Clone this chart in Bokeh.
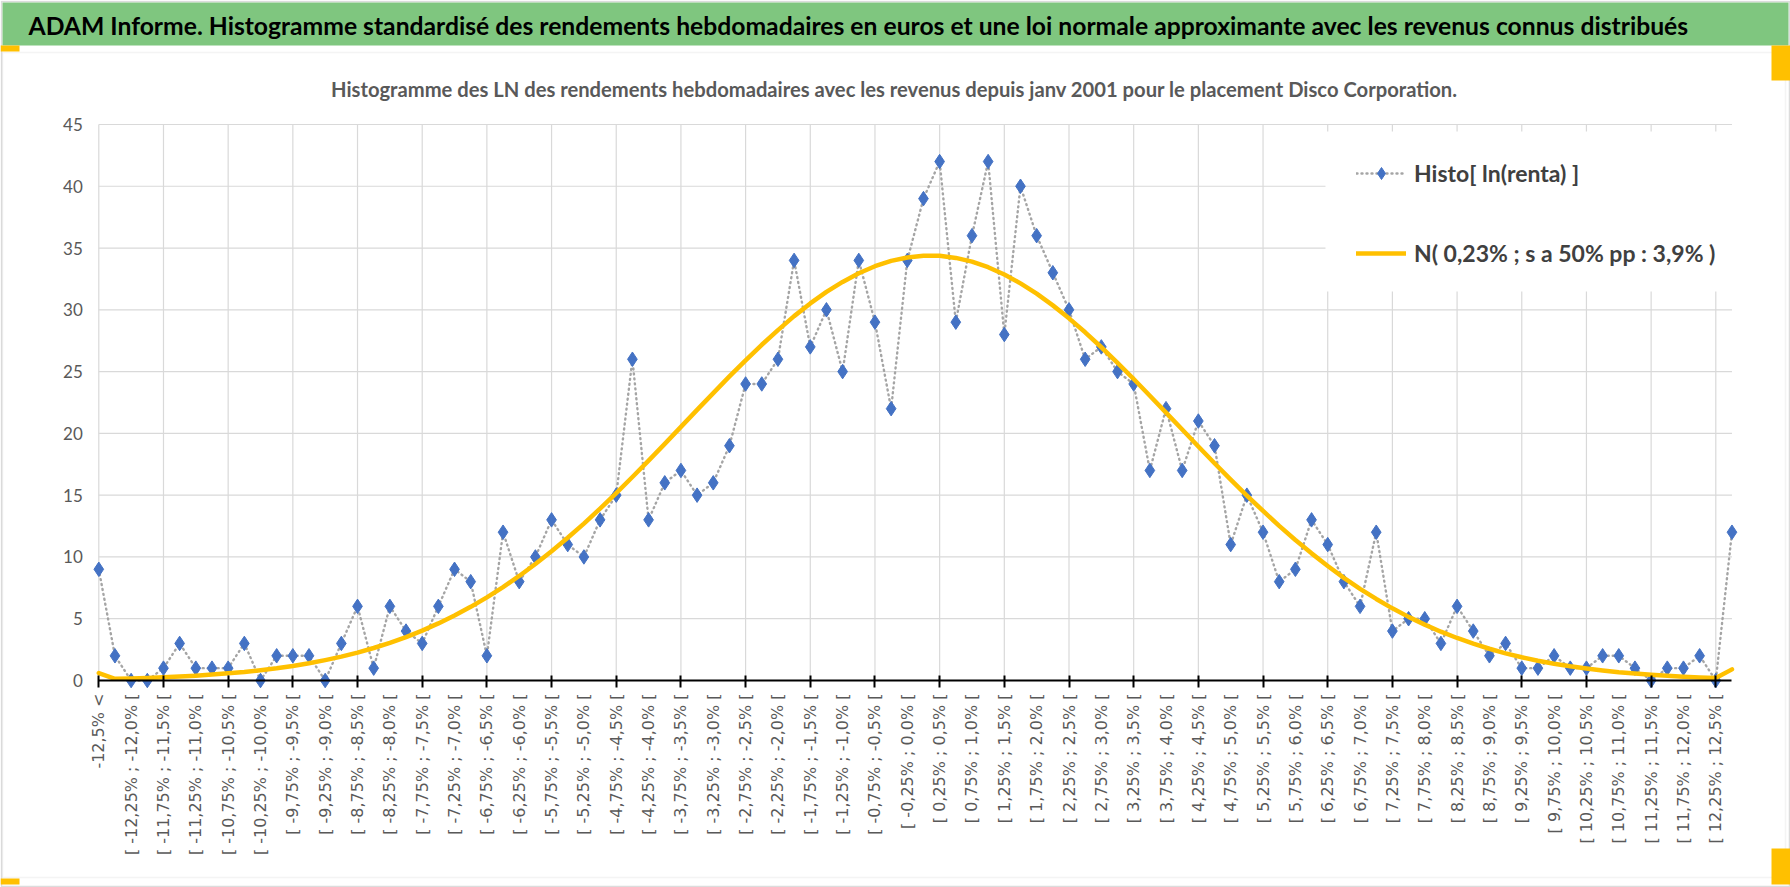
import math
from bokeh.plotting import figure
from bokeh.models import (ColumnDataSource, FixedTicker, Legend, LegendItem,
                          BoxAnnotation, Label, Range1d)
from bokeh.embed import file_html
from bokeh.resources import INLINE

# ---------------- data ----------------
histo_counts = [9, 2, 0, 0, 1, 3, 1, 1, 1, 3,
                0, 2, 2, 2, 0, 3, 6, 1, 6, 4,
                3, 6, 9, 8, 2, 12, 8, 10, 13, 11,
                10, 13, 15, 26, 13, 16, 17, 15, 16, 19,
                24, 24, 26, 34, 27, 30, 25, 34, 29, 22,
                34, 39, 42, 29, 36, 42, 28, 40, 36, 33,
                30, 26, 27, 25, 24, 17, 22, 17, 21, 19,
                11, 15, 12, 8, 9, 13, 11, 8, 6, 12,
                4, 5, 5, 3, 6, 4, 2, 3, 1, 1,
                2, 1, 1, 2, 2, 1, 0, 1, 1, 2,
                0, 12]

normal_fit = [0.6, 0.14, 0.17, 0.21, 0.26, 0.32, 0.39, 0.48, 0.58, 0.69,
              0.83, 0.99, 1.18, 1.40, 1.65, 1.93, 2.26, 2.63, 3.05, 3.51,
              4.04, 4.62, 5.26, 5.96, 6.73, 7.56, 8.46, 9.43, 10.46, 11.55,
              12.70, 13.91, 15.17, 16.47, 17.80, 19.15, 20.53, 21.90, 23.26, 24.61,
              25.91, 27.17, 28.36, 29.49, 30.52, 31.45, 32.26, 32.96, 33.53, 33.96,
              34.24, 34.38, 34.37, 34.20, 33.90, 33.45, 32.86, 32.14, 31.31, 30.36,
              29.31, 28.18, 26.97, 25.71, 24.40, 23.05, 21.68, 20.31, 18.94, 17.58,
              16.26, 14.97, 13.72, 12.51, 11.37, 10.29, 9.27, 8.31, 7.42, 6.60,
              5.84, 5.15, 4.52, 3.95, 3.44, 2.98, 2.57, 2.20, 1.88, 1.60,
              1.36, 1.15, 0.97, 0.81, 0.67, 0.56, 0.46, 0.38, 0.31, 0.25,
              0.21, 0.9]

tick_labels = [
    "-12,5% <",
    "[ -12,25% ; -12,0% [", "[ -11,75% ; -11,5% [", "[ -11,25% ; -11,0% [",
    "[ -10,75% ; -10,5% [", "[ -10,25% ; -10,0% [",
    "[ -9,75% ; -9,5% [", "[ -9,25% ; -9,0% [", "[ -8,75% ; -8,5% [", "[ -8,25% ; -8,0% [",
    "[ -7,75% ; -7,5% [", "[ -7,25% ; -7,0% [", "[ -6,75% ; -6,5% [", "[ -6,25% ; -6,0% [",
    "[ -5,75% ; -5,5% [", "[ -5,25% ; -5,0% [", "[ -4,75% ; -4,5% [", "[ -4,25% ; -4,0% [",
    "[ -3,75% ; -3,5% [", "[ -3,25% ; -3,0% [", "[ -2,75% ; -2,5% [", "[ -2,25% ; -2,0% [",
    "[ -1,75% ; -1,5% [", "[ -1,25% ; -1,0% [", "[ -0,75% ; -0,5% [", "[ -0,25% ; 0,0% [",
    "[ 0,25% ; 0,5% [", "[ 0,75% ; 1,0% [", "[ 1,25% ; 1,5% [", "[ 1,75% ; 2,0% [",
    "[ 2,25% ; 2,5% [", "[ 2,75% ; 3,0% [", "[ 3,25% ; 3,5% [", "[ 3,75% ; 4,0% [",
    "[ 4,25% ; 4,5% [", "[ 4,75% ; 5,0% [", "[ 5,25% ; 5,5% [", "[ 5,75% ; 6,0% [",
    "[ 6,25% ; 6,5% [", "[ 6,75% ; 7,0% [", "[ 7,25% ; 7,5% [", "[ 7,75% ; 8,0% [",
    "[ 8,25% ; 8,5% [", "[ 8,75% ; 9,0% [", "[ 9,25% ; 9,5% [", "[ 9,75% ; 10,0% [",
    "[ 10,25% ; 10,5% [", "[ 10,75% ; 11,0% [", "[ 11,25% ; 11,5% [", "[ 11,75% ; 12,0% [",
    "[ 12,25% ; 12,5% [",
]

y_ticks = [0, 5, 10, 15, 20, 25, 30, 35, 40, 45]

main_title = ("ADAM Informe. Histogramme standardisé des rendements hebdomadaires en euros "
              "et une loi normale approximante avec les revenus connus distribués")
sub_title = ("Histogramme des LN des rendements hebdomadaires avec les revenus depuis "
             "janv 2001 pour le placement Disco Corporation.")
series_names = ["Histo[ ln(renta) ]", "N( 0,23% ; s a 50% pp : 3,9% )"]

# ---------------- derived ----------------
positions = list(range(len(histo_counts)))
label_positions = positions[::2]
grid_positions = positions[::4]

W, H = 1790, 887
FONT = "Lato"
GRAY_TXT = "#595959"
GRID = "#D9D9D9"

# the frame covers the whole canvas; data area placed through the ranges
PX_X = 16.17      # px per category
PX_Y = 12.356     # px per unit
X0_PX = 98.3      # screen x of the first category
Y0_PX = 680.0     # screen y of value 0
x_start = -X0_PX / PX_X
y_start = -(H - Y0_PX) / PX_Y

p = figure(width=W, height=H, output_backend="svg", toolbar_location=None,
           x_range=Range1d(x_start, x_start + W / PX_X),
           y_range=Range1d(y_start, y_start + H / PX_Y),
           min_border=0, min_border_left=0, min_border_right=0,
           min_border_top=0, min_border_bottom=0)
p.styles = {"position": "absolute", "left": "0px", "top": "0px"}
p.outline_line_color = None
p.background_fill_color = "white"
p.border_fill_color = "white"
p.xgrid.visible = False
p.ygrid.visible = False

# grid lines limited to the data area
n_v = len(grid_positions)
p.segment(x0=grid_positions, y0=[y_ticks[0]] * n_v, x1=grid_positions, y1=[y_ticks[-1]] * n_v,
          line_color=GRID, line_width=1.2, level="underlay")
n_h = len(y_ticks) - 1
p.segment(x0=[positions[0]] * n_h, y0=y_ticks[1:], x1=[positions[-1]] * n_h, y1=y_ticks[1:],
          line_color=GRID, line_width=1.2, level="underlay")

# x axis (drawn at value 0)
xa = p.xaxis[0]
xa.fixed_location = 0
xa.ticker = FixedTicker(ticks=label_positions, minor_ticks=grid_positions)
xa.major_label_overrides = {pos: lab for pos, lab in zip(label_positions, tick_labels)}
xa.major_label_orientation = math.pi / 2
xa.major_tick_line_color = None
xa.major_tick_in = 0
xa.major_tick_out = 7
xa.minor_tick_line_color = "black"
xa.minor_tick_line_width = 2
xa.minor_tick_in = 5
xa.minor_tick_out = 7
xa.axis_line_color = "black"
xa.axis_line_width = 2.2
xa.bounds = (positions[0], positions[-1])
xa.major_label_standoff = 6
xa.major_label_text_font = "DejaVu Sans"
xa.major_label_text_font_size = "16px"
xa.major_label_text_color = GRAY_TXT

# y axis (drawn at the first category)
ya = p.yaxis[0]
ya.fixed_location = positions[0]
ya.ticker = FixedTicker(ticks=y_ticks)
ya.bounds = (y_ticks[0], y_ticks[-1])
ya.axis_line_color = None
ya.major_tick_line_color = None
ya.minor_tick_line_color = None
ya.major_tick_out = 0
ya.major_tick_in = 0
ya.major_label_standoff = 16
ya.major_label_text_font = FONT
ya.major_label_text_font_size = "17px"
ya.major_label_text_color = GRAY_TXT

# series
src = ColumnDataSource(dict(x=positions, histo=histo_counts, fit=normal_fit))
r_line = p.line("x", "histo", source=src, line_color="#A5A5A5", line_width=2.4,
                line_dash="1 4", line_cap="round")
r_pts = p.scatter("x", "histo", source=src, marker="diamond", size=14.5,
                  fill_color="#4472C4", line_color="#4472C4")
r_fit = p.line("x", "fit", source=src, line_color="#FFC000", line_width=4.5,
               line_join="round", line_cap="round")

# ---------------- page decorations (canvas units) ----------------
def cbox(l, r, t, b, fill, line=None, lw=1.0):
    return BoxAnnotation(left=l, right=r, top=t, bottom=b,
                         left_units="canvas", right_units="canvas",
                         top_units="canvas", bottom_units="canvas",
                         fill_color=fill, fill_alpha=1.0 if fill else 0.0,
                         line_color=line, line_width=lw, level="annotation")

p.add_layout(cbox(1325, 1738, 131, 291, "white"))          # legend area hides the grid
p.add_layout(cbox(2, 1785, 52, 877, None, "#D9D9D9", 1.5))
p.add_layout(cbox(1, 1789, 1, 886, None, "#8C8C8C", 1.5))
p.add_layout(cbox(2, 1788, 2, 45, "#7FC67F"))
p.add_layout(cbox(0, 19, 45, 51, "#FFC000"))
p.add_layout(cbox(1771, 1790, 45, 80, "#FFC000"))
p.add_layout(cbox(0, 19, 878, 884, "#FFC000"))
p.add_layout(cbox(1771, 1790, 848, 884, "#FFC000"))

legend = Legend(items=[LegendItem(label=series_names[0], renderers=[r_line, r_pts]),
                       LegendItem(label=series_names[1], renderers=[r_fit])],
                location=(1356, 619), orientation="vertical",
                glyph_width=50, glyph_height=30, label_height=30, label_standoff=8,
                spacing=50, padding=26, margin=0,
                background_fill_color="white", background_fill_alpha=1.0,
                border_line_color=None,
                label_text_font=FONT, label_text_font_style="bold",
                label_text_font_size="23px", label_text_color="#404040")
p.add_layout(legend)

p.add_layout(Label(x=28, y=25, x_units="canvas", y_units="canvas", text=main_title,
                   text_font=FONT, text_font_style="bold", text_font_size="24.7px",
                   text_color="black", text_align="left", text_baseline="middle",
                   level="overlay"))
p.add_layout(Label(x=894, y=88, x_units="canvas", y_units="canvas", text=sub_title,
                   text_font=FONT, text_font_style="bold", text_font_size="20.2px",
                   text_color=GRAY_TXT, text_align="center", text_baseline="middle",
                   level="overlay"))

open("out.html", "w").write(file_html(p, INLINE))
